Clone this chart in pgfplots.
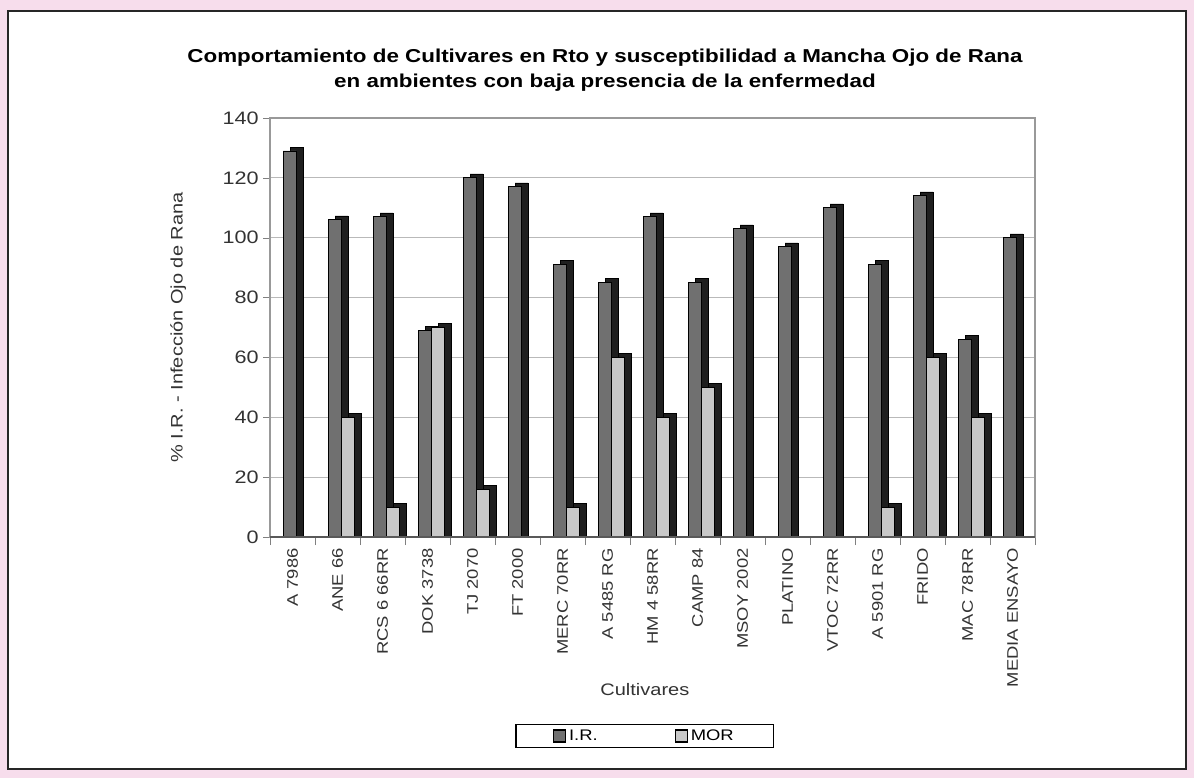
\documentclass[border=0pt]{standalone}
\usepackage{fontspec}
\setmainfont{Liberation Sans}
\newfontfamily\widefont[FakeStretch=1.2]{Liberation Sans}
\usepackage{pgfplots}
\pgfplotsset{compat=1.18}
\usepackage{pgfplotstable}
\definecolor{pinkbg}{RGB}{247,221,236}
\definecolor{lrgray}{RGB}{112,112,112}
\definecolor{morgray}{RGB}{200,200,200}
\pgfplotstableread{
x LR MOR
0 129 0
1 106 40
2 107 10
3 69 70
4 120 16
5 117 0
6 91 10
7 85 60
8 107 40
9 85 50
10 103 0
11 97 0
12 110 0
13 91 10
14 114 60
15 66 40
16 100 0
}\data
\begin{document}
\begin{tikzpicture}[x=0.75pt,y=0.75pt]
\fill[pinkbg] (0,0) rectangle (1194,778);
\filldraw[fill=white, draw=black!85, line width=1.1pt] (8,9) rectangle (1186,767);
\node[font=\widefont\bfseries\fontsize{14}{19}\selectfont, align=center] at (605,708) {Comportamiento de Cultivares en Rto y susceptibilidad a Mancha Ojo de Rana\\en ambientes con baja presencia de la enfermedad};
\begin{axis}[
  at={(202.5pt,180.75pt)}, anchor=south west,
  width=573.75pt, height=314.25pt, scale only axis,
  xmin=-0.5, xmax=16.5, ymin=0, ymax=140,
  ytick={0,20,...,140},
  xtick={0,...,16},
  xticklabels={A 7986, ANE 66, RCS 6 66RR, DOK 3738, TJ 2070, FT 2000, MERC 70RR, A 5485 RG, HM 4 58RR, CAMP 84, MSOY 2002, PLATINO, VTOC 72RR, A 5901 RG, FRIDO, MAC 78RR, MEDIA ENSAYO},
  x tick label style={rotate=90, anchor=east, font=\widefont\fontsize{11.5}{13}\selectfont, text=black!80},
  y tick label style={font=\widefont\fontsize{13.5}{16}\selectfont, text=black!80},
  /pgf/number format/assume math mode=true,
  major x tick style={draw=none},
  minor xtick={-0.5,0.5,...,16.5},
  minor x tick style={draw=gray},
  tick pos=left, tick align=outside,
  major tick length=5pt, minor tick length=6pt,
  ymajorgrids, grid style={gray!55, line width=0.6pt},
  axis line style={draw=gray!80, line width=0.8pt},
  every axis x label/.style={at={(axis description cs:0.49,-0.365)}, anchor=center},
  every axis y label/.style={at={(axis description cs:-0.12,0.5)}, rotate=90, anchor=center},
  xlabel={Cultivares}, ylabel={\% I.R. - Infección Ojo de Rana},
  label style={font=\widefont\fontsize{12.5}{15}\selectfont, text=black!80},
  legend style={at={(0.49,-0.475)}, anchor=center, legend columns=2, draw=black, line width=1pt,
    font=\widefont\fontsize{11.5}{14}\selectfont, inner xsep=28pt, inner ysep=2pt,
    /tikz/every even column/.append style={column sep=56pt}},
]
\addplot[ybar, bar width=0.29, bar shift=0.09, fill=black!88, draw=black, forget plot, restrict y to domain=2:200] table[x=x, y expr=\thisrow{LR}+1.3]{\data};
\addplot[ybar, bar width=0.29, bar shift=-0.065, fill=lrgray, draw=black, line width=0.6pt,
  legend image code/.code={\draw[fill=lrgray, draw=black, line width=0.8pt] (0pt,-4.5pt) rectangle (9pt,4.5pt);}] table[x=x, y=LR]{\data};
\addplot[ybar, bar width=0.29, bar shift=0.38, fill=black!88, draw=black, forget plot, restrict y to domain=2:200] table[x=x, y expr=\thisrow{MOR}+1.3]{\data};
\addplot[ybar, bar width=0.29, bar shift=0.225, fill=morgray, draw=black, line width=0.6pt,
  legend image code/.code={\draw[fill=morgray, draw=black, line width=0.8pt] (0pt,-4.5pt) rectangle (9pt,4.5pt);}] table[x=x, y=MOR]{\data};
\legend{I.R., MOR}
\draw[black!65, line width=1.8pt] (axis cs:-0.5,0) -- (axis cs:16.5,0);
\end{axis}
\end{tikzpicture}
\end{document}
